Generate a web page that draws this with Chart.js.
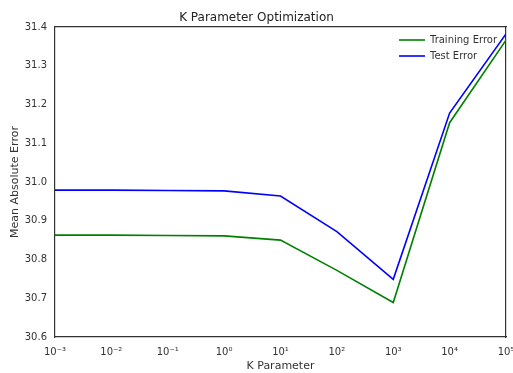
<!DOCTYPE html>
<html>
<head>
<meta charset="utf-8">
<script src="https://cdn.jsdelivr.net/npm/chart.js@4/dist/chart.umd.min.js"></script>
<style>
html,body{margin:0;padding:0;background:#fff;}
#wrap{width:513px;height:373px;position:relative;}
</style>
</head>
<body>
<div id="wrap"><canvas id="c" width="513" height="373"></canvas></div>
<script>
const kValues = [0.001, 0.01, 0.1, 1, 10, 100, 1000, 10000, 100000];
const trainingError = [30.863, 30.863, 30.862, 30.861, 30.850, 30.772, 30.689, 31.153, 31.366];
const testError = [30.979, 30.979, 30.978, 30.977, 30.964, 30.872, 30.749, 31.178, 31.382];
const xTickValues = [0.001, 0.01, 0.1, 1, 10, 100, 1000, 10000, 100000];
const xTickLabels = ['10\u207B\u00B3', '10\u207B\u00B2', '10\u207B\u00B9', '10\u2070', '10\u00B9', '10\u00B2', '10\u00B3', '10\u2074', '10\u2075'];
const yTickValues = [30.6, 30.7, 30.8, 30.9, 31.0, 31.1, 31.2, 31.3, 31.4];

const FONT = 'DejaVu Sans';
const pts = arr => kValues.map((k, i) => ({x: k, y: arr[i]}));

const legendMove = {
  id: 'legendMove',
  afterLayout(chart) {
    const lg = chart.legend, ca = chart.chartArea;
    if (!lg) return;
    const w = lg.width;
    lg.left = ca.right - w + 1;
    lg.right = ca.right + 1;
    lg.top = ca.top + 2;
  }
};

new Chart(document.getElementById('c'), {
  type: 'line',
  data: {
    datasets: [
      {label: 'Training Error', data: pts(trainingError), borderColor: '#008000', backgroundColor: '#008000', borderWidth: 1.6, pointRadius: 0, pointStyle: 'line', tension: 0, xAxisID: 'x', yAxisID: 'y'},
      {label: 'Test Error', data: pts(testError), borderColor: '#0000ff', backgroundColor: '#0000ff', borderWidth: 1.6, pointRadius: 0, pointStyle: 'line', tension: 0, xAxisID: 'x', yAxisID: 'y'}
    ]
  },
  options: {
    responsive: false,
    animation: false,
    layout: {padding: {left: 0, right: 0, top: 0, bottom: 0}},
    plugins: {
      title: {display: true, text: 'K Parameter Optimization', color: '#222', font: {family: FONT, size: 12, weight: 'normal'}, padding: {top: 11, bottom: 1.6}},
      legend: {
        position: 'chartArea', align: 'start',
        labels: {usePointStyle: true, pointStyleWidth: 26, boxHeight: 10, color: '#333', font: {family: FONT, size: 10}, padding: 6}
      },
      tooltip: {enabled: false}
    },
    scales: {
      x: {
        type: 'logarithmic', position: 'bottom', min: 0.001, max: 100000,
        afterBuildTicks: s => { s.ticks = xTickValues.map(v => ({value: v})); },
        afterFit: s => { s.height = 36; s.paddingLeft = 0; s.paddingRight = 0; },
        ticks: {autoSkip: false, maxRotation: 0, color: '#333', font: {family: FONT, size: 10}, padding: 9,
          callback: (v) => { const i = xTickValues.findIndex(t => Math.abs(Math.log10(t) - Math.log10(v)) < 1e-6); return i >= 0 ? xTickLabels[i] : ''; }},
        grid: {display: false, drawTicks: false},
        border: {display: true, color: '#333', width: 1.2},
        title: {display: true, text: 'K Parameter', color: '#333', font: {family: FONT, size: 11}, padding: {top: 2, bottom: 0}}
      },
      x2: {
        type: 'linear', position: 'top', min: 0, max: 1,
        ticks: {display: false}, grid: {display: false, drawTicks: false},
        border: {display: true, color: '#333', width: 1.2},
        afterFit: s => { s.height = 0; }
      },
      y: {
        type: 'linear', position: 'left', min: 30.6, max: 31.4,
        afterBuildTicks: s => { s.ticks = yTickValues.map(v => ({value: v})); },
        afterFit: s => { s.width = 55; s.paddingTop = 0; s.paddingBottom = 0; },
        ticks: {color: '#333', font: {family: FONT, size: 10}, padding: 8, callback: v => Number(v).toFixed(1)},
        grid: {display: false, drawTicks: false},
        border: {display: true, color: '#333', width: 1.2},
        title: {display: true, text: 'Mean Absolute Error', color: '#333', font: {family: FONT, size: 11}, padding: {top: 9, bottom: 2}}
      },
      y2: {
        type: 'linear', position: 'right', min: 0, max: 1,
        ticks: {display: false}, grid: {display: false, drawTicks: false},
        border: {display: true, color: '#333', width: 1.2},
        afterFit: s => { s.width = 7; }
      }
    }
  },
  plugins: [legendMove]
});
</script>
</body>
</html>
